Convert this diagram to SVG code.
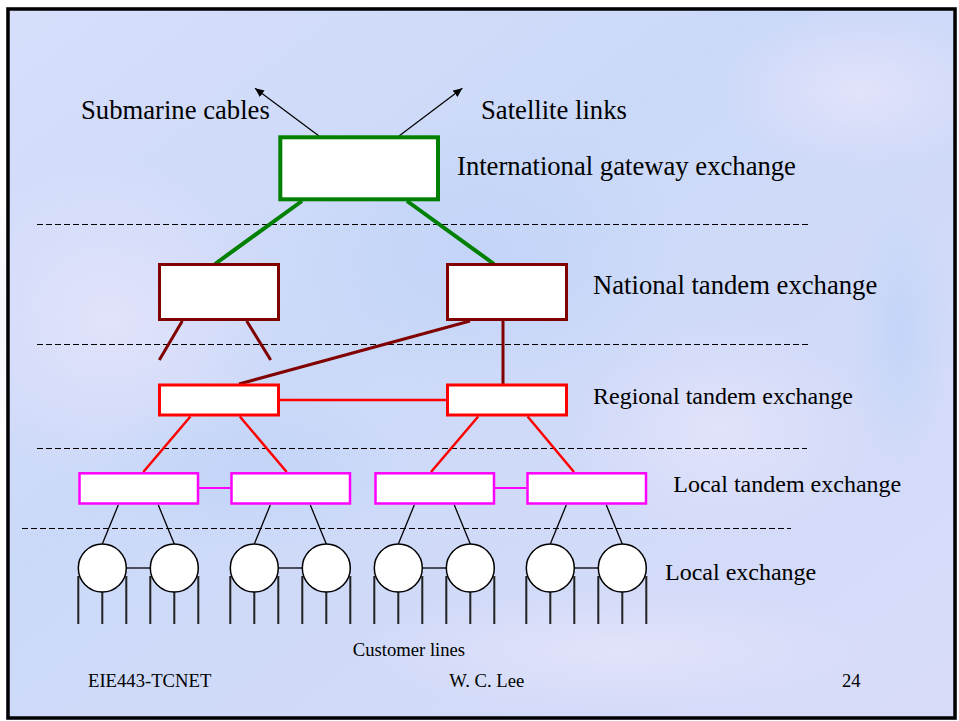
<svg xmlns="http://www.w3.org/2000/svg" width="959" height="721" viewBox="0 0 959 721">
  <defs>
    <style>
      text { font-family: "Liberation Serif", "Times New Roman", serif; fill: #000; }
      .t20 { font-size: 26.67px; }
      .t18 { font-size: 24px; }
      .t14 { font-size: 18.67px; }
      .box { fill: #fff; }
      .intl { stroke: #008000; stroke-width: 4; }
      .nat { stroke: #800000; stroke-width: 3; }
      .reg { stroke: #ff0000; stroke-width: 3; }
      .lt { stroke: #ff00ff; stroke-width: 2.5; }
      .le { fill: #fff; stroke: #000; stroke-width: 1.5; }
      .guide { stroke: #000; stroke-width: 1.2; stroke-dasharray: 6 3; fill: none; }
      .c-green { stroke: #008000; stroke-width: 4; }
      .c-maroon { stroke: #800000; stroke-width: 3; }
      .c-red { stroke: #ff0000; stroke-width: 2.5; }
      .c-mag { stroke: #ff00ff; stroke-width: 2; }
      .c-thin { stroke: #000; stroke-width: 1.3; }
      .c-cust { stroke: #222; stroke-width: 2; }
      .c-arrow { stroke: #000; stroke-width: 1.2; marker-end: url(#arrow); }
    </style>
    <marker id="arrow" markerUnits="userSpaceOnUse" markerWidth="10" markerHeight="8" refX="9" refY="4" orient="auto">
      <path d="M0,0 L9,4 L0,8 Z" fill="#000"/>
    </marker>
    <linearGradient id="bg" x1="0" y1="0" x2="1" y2="1">
      <stop offset="0" stop-color="#d6defa"/>
      <stop offset="0.4" stop-color="#cbd9f8"/>
      <stop offset="0.75" stop-color="#d3dbf8"/>
      <stop offset="1" stop-color="#d8dcf9"/>
    </linearGradient>
    <radialGradient id="lav">
      <stop offset="0" stop-color="#e4e3fb" stop-opacity="0.9"/>
      <stop offset="1" stop-color="#e4e3fb" stop-opacity="0"/>
    </radialGradient>
    <radialGradient id="blu">
      <stop offset="0" stop-color="#c2d4f8" stop-opacity="0.9"/>
      <stop offset="1" stop-color="#c2d4f8" stop-opacity="0"/>
    </radialGradient>
  </defs>

  <!-- slide background -->
  <rect x="0" y="0" width="959" height="721" fill="#fff"/>
  <rect x="6" y="7" width="951" height="713" fill="url(#bg)"/>
  <g id="background-tint">
    <ellipse cx="110" cy="320" rx="170" ry="160" fill="url(#lav)"/>
    <ellipse cx="620" cy="650" rx="260" ry="60" fill="url(#lav)"/>
    <ellipse cx="720" cy="430" rx="150" ry="110" fill="url(#lav)"/>
    <ellipse cx="860" cy="90" rx="140" ry="80" fill="url(#lav)"/>
    <ellipse cx="480" cy="250" rx="200" ry="140" fill="url(#blu)"/>
    <ellipse cx="900" cy="330" rx="50" ry="140" fill="url(#blu)"/>
    <ellipse cx="250" cy="470" rx="160" ry="80" fill="url(#blu)"/>
  </g>
  <rect id="frame" x="8" y="9" width="947" height="709" fill="none" stroke="#000" stroke-width="3.5"/>

  <!-- hierarchy level separators -->
  <g id="guides">
    <line class="guide" x1="37" y1="224.5" x2="808" y2="224.5"/>
    <line class="guide" x1="37" y1="344.5" x2="808" y2="344.5"/>
    <line class="guide" x1="37" y1="448.5" x2="807" y2="448.5"/>
    <line class="guide" x1="22" y1="528.5" x2="791" y2="528.5"/>
  </g>

  <!-- trunks and links -->
  <g id="connectors">
    <line class="c-arrow" x1="319" y1="136" x2="255" y2="88.3"/>
    <line class="c-arrow" x1="399" y1="136" x2="462.3" y2="88.3"/>

    <line class="c-green" x1="302" y1="201" x2="215" y2="264"/>
    <line class="c-green" x1="407" y1="201" x2="494" y2="264"/>

    <line class="c-maroon" x1="182.3" y1="321" x2="159.3" y2="360"/>
    <line class="c-maroon" x1="246.7" y1="321" x2="270.7" y2="360"/>
    <line class="c-maroon" x1="470" y1="321" x2="239" y2="384"/>
    <line class="c-maroon" x1="503" y1="321" x2="503" y2="384"/>

    <line class="c-red" x1="280" y1="400" x2="446" y2="400"/>
    <line class="c-red" x1="190.4" y1="416.5" x2="143.3" y2="472"/>
    <line class="c-red" x1="239.8" y1="416.5" x2="286.7" y2="472"/>
    <line class="c-red" x1="478.2" y1="416.5" x2="431" y2="472"/>
    <line class="c-red" x1="527.6" y1="416.5" x2="574" y2="472"/>

    <line class="c-mag" x1="199" y1="488" x2="231" y2="488"/>
    <line class="c-mag" x1="495" y1="488" x2="527" y2="488"/>

    <line class="c-thin" x1="118.3" y1="505" x2="102.3" y2="544"/>
    <line class="c-thin" x1="158.3" y1="505" x2="174.3" y2="544"/>
    <line class="c-thin" x1="270.3" y1="505" x2="254.3" y2="544"/>
    <line class="c-thin" x1="310.3" y1="505" x2="326.3" y2="544"/>
    <line class="c-thin" x1="414.3" y1="505" x2="398.3" y2="544"/>
    <line class="c-thin" x1="454.3" y1="505" x2="470.3" y2="544"/>
    <line class="c-thin" x1="566.3" y1="505" x2="550.3" y2="544"/>
    <line class="c-thin" x1="606.3" y1="505" x2="622.3" y2="544"/>

    <line class="c-thin" x1="126.3" y1="568" x2="150.3" y2="568"/>
    <line class="c-thin" x1="278.3" y1="568" x2="302.3" y2="568"/>
    <line class="c-thin" x1="422.3" y1="568" x2="446.3" y2="568"/>
    <line class="c-thin" x1="574.3" y1="568" x2="598.3" y2="568"/>

    <!-- customer lines: three drops per local exchange -->
    <path class="c-cust" fill="none" d="
      M78.3,576 V624 M102.3,592 V624 M126.3,576 V624
      M150.3,576 V624 M174.3,592 V624 M198.3,576 V624
      M230.3,576 V624 M254.3,592 V624 M278.3,576 V624
      M302.3,576 V624 M326.3,592 V624 M350.3,576 V624
      M374.3,576 V624 M398.3,592 V624 M422.3,576 V624
      M446.3,576 V624 M470.3,592 V624 M494.3,576 V624
      M526.3,576 V624 M550.3,592 V624 M574.3,576 V624
      M598.3,576 V624 M622.3,592 V624 M646.3,576 V624"/>
  </g>

  <!-- exchanges -->
  <g id="intl-gateway"><rect class="box intl" x="280.3" y="137.3" width="157.7" height="62"/></g>

  <g id="national-1"><rect class="box nat" x="159.5" y="264.5" width="119" height="55"/></g>
  <g id="national-2"><rect class="box nat" x="447.5" y="264.5" width="119" height="55"/></g>

  <g id="regional-1"><rect class="box reg" x="159.5" y="385" width="119" height="30"/></g>
  <g id="regional-2"><rect class="box reg" x="447.5" y="385" width="119" height="30"/></g>

  <g id="local-tandem-1"><rect class="box lt" x="79.5" y="473.3" width="118.5" height="30.2"/></g>
  <g id="local-tandem-2"><rect class="box lt" x="231.5" y="473.3" width="118.5" height="30.2"/></g>
  <g id="local-tandem-3"><rect class="box lt" x="375.5" y="473.3" width="118.5" height="30.2"/></g>
  <g id="local-tandem-4"><rect class="box lt" x="527.5" y="473.3" width="118.5" height="30.2"/></g>

  <g id="local-1"><circle class="le" cx="102.3" cy="568" r="24"/></g>
  <g id="local-2"><circle class="le" cx="174.3" cy="568" r="24"/></g>
  <g id="local-3"><circle class="le" cx="254.3" cy="568" r="24"/></g>
  <g id="local-4"><circle class="le" cx="326.3" cy="568" r="24"/></g>
  <g id="local-5"><circle class="le" cx="398.3" cy="568" r="24"/></g>
  <g id="local-6"><circle class="le" cx="470.3" cy="568" r="24"/></g>
  <g id="local-7"><circle class="le" cx="550.3" cy="568" r="24"/></g>
  <g id="local-8"><circle class="le" cx="622.3" cy="568" r="24"/></g>

  <!-- labels -->
  <g id="labels">
    <text class="t20" x="81" y="119">Submarine cables</text>
    <text class="t20" x="481" y="119">Satellite links</text>
    <text class="t20" x="457" y="175">International gateway exchange</text>
    <text class="t20" x="593" y="294.3">National tandem exchange</text>
    <text class="t18" x="593" y="404.3">Regional tandem exchange</text>
    <text class="t18" x="673.3" y="491.7">Local tandem exchange</text>
    <text class="t18" x="665" y="580">Local exchange</text>
    <text class="t14" x="352.7" y="655.7">Customer lines</text>
  </g>

  <g id="footer">
    <text class="t14" x="88" y="687.3">EIE443-TCNET</text>
    <text class="t14" x="449.3" y="687.3">W. C. Lee</text>
    <text class="t14" x="842" y="687.3">24</text>
  </g>
</svg>
